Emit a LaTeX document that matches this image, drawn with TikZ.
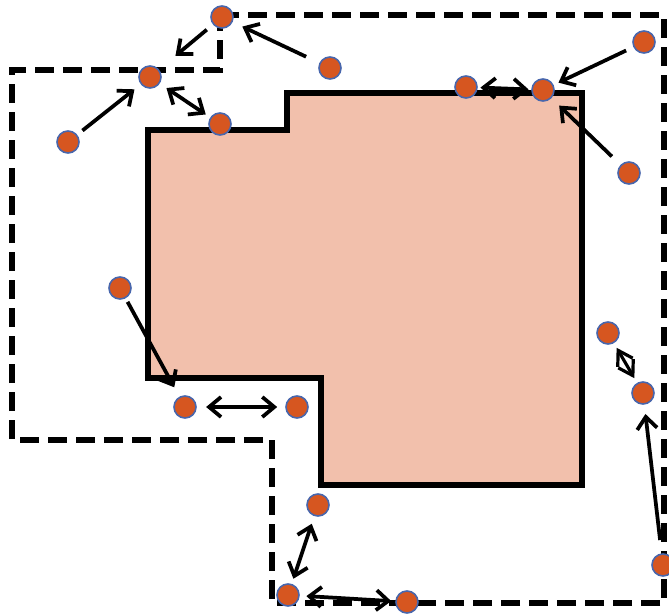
\documentclass[tikz,border=0pt]{standalone}
\usetikzlibrary{arrows.meta}

\definecolor{roompink}{RGB}{242,192,172}
\definecolor{dotfill}{RGB}{214,86,32}
\definecolor{dotline}{RGB}{72,102,172}

\tikzset{
  spot/.style={circle,fill=dotfill,draw=dotline,line width=1.2pt,inner sep=0pt,minimum size=16.5pt},
  link/.style={line width=2.8pt,-{Straight Barb[length=9pt,width=15pt]}},
  twolink/.style={line width=2.8pt,{Straight Barb[length=9pt,width=15pt]}-{Straight Barb[length=9pt,width=15pt]}},
  shortlink/.style={line width=2.4pt,{Straight Barb[length=10.5pt,width=13pt]}-{Straight Barb[length=10.5pt,width=13pt]}}
}

\begin{document}
\begin{tikzpicture}[x=0.75pt,y=-0.75pt]
 \useasboundingbox (0,0) rectangle (669,614);

 % the room
 \draw[line width=3.8pt,fill=roompink,line join=miter]
   (148,130) -- (287,130) -- (287,93) -- (582,93) -- (582,485)
   -- (321,485) -- (321,378) -- (148,378) -- cycle;

 % outer boundary
 \draw[line width=4pt,dash pattern=on 14pt off 7pt]
   (220,15) -- (664,15) -- (664,603) -- (272,603) -- (272,440)
   -- (12,440) -- (12,70) -- (220,70) -- cycle;

 % points
 \node[spot] (p1) at (222,17) {};
 \node[spot] (p2) at (150,77) {};
 \node[spot] (p3) at (68,142) {};
 \node[spot] (p4) at (220,124) {};
 \node[spot] (p5) at (330,68) {};
 \node[spot] (p6) at (466,87) {};
 \node[spot] (p7) at (543,90) {};
 \node[spot] (p8) at (644,42) {};
 \node[spot] (p9) at (629,173) {};
 \node[spot] (p10) at (120,288) {};
 \node[spot] (p11) at (185,407) {};
 \node[spot] (p12) at (297,407) {};
 \node[spot] (p13) at (608,333) {};
 \node[spot] (p14) at (643,393) {};
 \node[spot] (p15) at (663,565) {};
 \node[spot] (p16) at (318,505) {};
 \node[spot] (p17) at (288,595) {};
 \node[spot] (p18) at (407,602) {};

 % moves
 \draw[link,shorten <=6pt,shorten >=16pt] (p1) to (p2);
 \draw[link,shorten <=11pt,shorten >=8pt] (p5) to (p1);
 \draw[link,shorten <=5pt,shorten >=6pt] (p3) to (p2);
 \draw[twolink,shorten <=6pt,shorten >=4pt] (p2) to (p4);
 \draw[twolink,shorten <=2pt,shorten >=2pt] (p6) to (p7);
 \draw[link,shorten <=6pt,shorten >=4pt] (p8) to (p7);
 \draw[link,shorten <=9pt,shorten >=8pt] (p9) to (p7);
 \draw[link,shorten <=3pt,shorten >=8pt] (p10) to (p11);
 \draw[twolink,shorten <=7pt,shorten >=6pt] (p11) to (p12);
 \draw[shortlink,shorten <=4pt,shorten >=4pt] (p13) to (p14);
 \draw[link,shorten <=10pt,shorten >=7pt] (p15) to (p14);
 \draw[twolink,shorten <=6pt,shorten >=4pt] (p16) to (p17);
 \draw[twolink,shorten <=5pt,shorten >=3pt] (p17) to (p18);
\end{tikzpicture}
\end{document}
